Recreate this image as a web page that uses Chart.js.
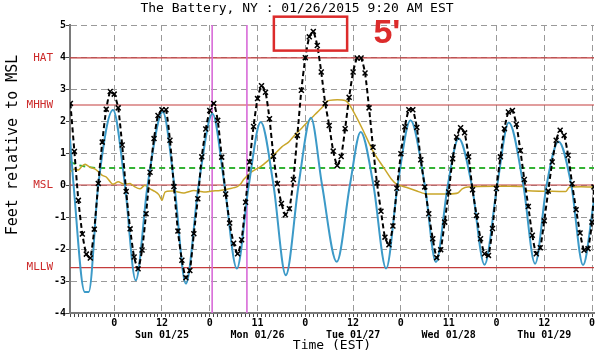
<!DOCTYPE html>
<html>
<head>
<meta charset="utf-8">
<script src="https://cdn.jsdelivr.net/npm/chart.js@4.4.1/dist/chart.umd.min.js"></script>
<style>
  html, body { margin: 0; padding: 0; background: #fff; }
  canvas { display: block; }
</style>
</head>
<body>
<canvas id="c" width="600" height="352"></canvas>
<script>
// ---------- DATA (time in hours from Sun 01/25/2015 00:00 EST) ----------
const TITLE = 'The Battery, NY : 01/26/2015 9:20 AM EST';
const Y_TITLE = 'Feet relative to MSL';
const X_TITLE = 'Time (EST)';

// major x ticks (every 12 h) and their labels
const majorTicks = [0, 12, 24, 36, 48, 60, 72, 84, 96, 108, 120];
const hourLabels = ['0', '12', '0', '11', '0', '12', '0', '11', '0', '12', '0'];
const dayLabels  = ['', 'Sun 01/25', '', 'Mon 01/26', '', 'Tue 01/27', '', 'Wed 01/28', '', 'Thu 01/29', ''];

// y ticks
const yTicks = [-4, -3, -2, -1, 0, 1, 2, 3, 4, 5];

// tidal datums
const datumNames  = ['HAT', 'MHHW', 'MSL', 'MLLW'];
const datumValues = [3.97, 2.5, 0, -2.58];

// astronomical prediction (blue)
const predTimes  = [-11.1, -10.2, -7.4, -6.4, -4.0, -0.3, 2.7, 5.4, 8.4, 12.2, 15.1, 18.0, 21.2, 24.7, 27.7, 30.8, 33.8, 36.8, 40.0, 43.1, 46.3, 49.4, 52.2, 55.9, 59.2, 61.9, 65.1, 68.3, 71.2, 74.4, 78.0, 80.8, 83.8, 86.5, 89.8, 93.0, 96.2, 99.1, 102.75, 105.7, 108.6, 111.6, 114.8, 117.75, 120.5];
const predValues = [1.45, 0, -3.34, -3.34, 0, 2.34, 0, -2.98, 0, 2.28, 0, -3.08, 0, 2.23, 0, -2.61, 0, 1.97, 0, -2.82, 0, 2.10, 0, -2.40, 0, 1.66, 0, -2.61, 0, 2.02, 0, -2.41, 0, 1.45, 0, -2.49, 0, 1.95, 0, -2.46, 0, 1.36, 0, -2.50, -0.48];

// observed / forecast water level (black dashed, hourly x markers)
const obsTimes = [-11, -10, -9, -8, -7, -6, -5, -4, -3, -2, -1, 0, 1, 2, 3, 4, 5, 6, 7, 8, 9, 10, 11, 12, 13, 14, 15, 16, 17, 18, 19, 20, 21, 22, 23, 24, 25, 26, 27, 28, 29, 30, 31, 32, 33, 34, 35, 36, 37, 38, 39, 40, 41, 42, 43, 44, 45, 46, 47, 48, 49, 50, 51, 52, 53, 54, 55, 56, 57, 58, 59, 60, 61, 62, 63, 64, 65, 66, 67, 68, 69, 70, 71, 72, 73, 74, 75, 76, 77, 78, 79, 80, 81, 82, 83, 84, 85, 86, 87, 88, 89, 90, 91, 92, 93, 94, 95, 96, 97, 98, 99, 100, 101, 102, 103, 104, 105, 106, 107, 108, 109, 110, 111, 112, 113, 114, 115, 116, 117, 118, 119, 120, 120.5];
const obsValues = [
  2.55, 1.05, -0.48, -1.53, -2.16, -2.28, -1.38, 0.05, 1.34, 2.37, 2.92,
  2.84, 2.41, 1.25, -0.2, -1.37, -2.25, -2.62, -2.03, -0.9, 0.4, 1.45, 2.17,
  2.35, 2.35, 1.4, -0.05, -1.44, -2.35, -2.9, -2.67, -1.52, -0.43, 0.88, 1.75,
  2.33, 2.55, 2.02, 0.87, -0.28, -1.19, -1.82, -2.15, -1.71, -0.54, 0.72, 1.83,
  2.7, 3.1, 2.9, 2.07, 0.9, 0.04, -0.58, -0.93, -0.74, 0.17, 1.55, 2.96,
  3.98, 4.63, 4.8, 4.36, 3.53, 2.55, 1.86, 1.06, 0.61, 0.89, 1.76, 2.74,
  3.53, 3.97, 3.97, 3.5, 2.41, 1.18, 0.06, -0.82, -1.63, -1.87, -1.28, -0.1,
  0.98, 1.82, 2.35, 2.35, 1.8, 0.79, -0.06, -0.9, -1.68, -2.27, -2.02, -1.16,
  -0.22, 0.82, 1.5, 1.79, 1.63, 0.88, -0.15, -0.95, -1.68, -2.15, -2.2, -1.36,
  -0.11, 0.88, 1.76, 2.28, 2.33, 1.9, 1.08, 0.17, -0.67, -1.57, -2.15, -1.96,
  -1.12, -0.19, 0.72, 1.4, 1.71, 1.55, 0.93, 0.04, -0.77, -1.5, -2.04, -1.99,
  -1.16, -0.06
];

// anomaly (yellow)
const anomTimes  = [-11.1, -10, -9, -8, -7.3, -6, -5, -4, -3, -2, -1, -0.3, 1, 2.5, 4, 5.2, 6.5, 7.7, 9, 10.2, 11.2, 12, 12.8, 14.9, 17.4, 20, 22.5, 24.6, 26.6, 29.2, 30.8, 31.8, 32.5, 34.5, 36.6, 38.7, 40.4, 42.1, 43.8, 45.5, 47.2, 48.8, 50.5, 52.2, 53.5, 55, 58, 59.2, 60.8, 62.5, 65.1, 67.6, 69.7, 71, 73.5, 76, 78, 84, 86.3, 87.4, 88.8, 96, 102.7, 103.6, 111.8, 113.5, 114.3, 120.5];
const anomValues = [0.41, 0.5, 0.47, 0.6, 0.65, 0.55, 0.51, 0.42, 0.3, 0.25, 0.1, 0.02, 0.1, 0.02, 0.05, -0.06, -0.12, -0.01, -0.12, -0.2, -0.3, -0.48, -0.22, -0.19, -0.25, -0.17, -0.22, -0.19, -0.17, -0.11, -0.06, 0.04, 0.17, 0.41, 0.56, 0.77, 0.98, 1.19, 1.34, 1.58, 1.79, 2.0, 2.21, 2.42, 2.62, 2.66, 2.64, 2.49, 2.13, 1.71, 1.03, 0.56, 0.17, 0.02, -0.08, -0.19, -0.27, -0.28, -0.25, -0.12, -0.06, -0.04, -0.05, -0.17, -0.2, -0.2, -0.07, -0.06];

// offset (green dashed)
const offTimes  = [-11.1, -9, -7, -4.5, 120.5];
const offValues = [0.72, 0.62, 0.57, 0.53, 0.53];

// vertical markers (magenta): start of day / current time
const markerTimes = [24.6, 33.33];

// annotation
const NOTE_TEXT = "5'";

// ---------- CHART ----------
const X_MIN = -11.1, X_MAX = 120.5, Y_MIN = -4, Y_MAX = 5;
const MONO = '"DejaVu Sans Mono", "Liberation Mono", monospace';

const pts = (xs, ys) => xs.map((t, i) => ({ x: t, y: ys[i] }));
const hourTicks = [];
for (let h = -11; h <= 120; h++) hourTicks.push(h);

const datasets = [];
datasets.push({
  label: 'Observed/Forecast', data: pts(obsTimes, obsValues),
  borderColor: '#000', borderWidth: 2, borderDash: [5, 3], tension: 0.2,
  pointStyle: 'crossRot', pointRadius: 3.5, pointBorderWidth: 1.5,
  pointBorderColor: '#000', pointBackgroundColor: '#000', xAxisID: 'x', yAxisID: 'y'
});
datasets.push({
  label: 'Predicted', data: pts(predTimes, predValues),
  borderColor: '#3c9ac8', borderWidth: 2, cubicInterpolationMode: 'monotone',
  pointRadius: 0, xAxisID: 'x', yAxisID: 'y'
});
datasets.push({
  label: 'Anomaly', data: pts(anomTimes, anomValues),
  borderColor: '#c9a62a', borderWidth: 1.5, tension: 0.2,
  pointRadius: 0, xAxisID: 'x', yAxisID: 'y'
});
datasets.push({
  label: 'Offset', data: pts(offTimes, offValues),
  borderColor: '#33b233', borderWidth: 2, borderDash: [6, 4],
  pointRadius: 0, xAxisID: 'x', yAxisID: 'y'
});
markerTimes.forEach(t => datasets.push({
  label: 'marker', data: [{ x: t, y: Y_MIN }, { x: t, y: Y_MAX }],
  borderColor: '#d86ad8', borderWidth: 1.6, pointRadius: 0, xAxisID: 'x', yAxisID: 'y'
}));
datumValues.forEach(v => datasets.push({
  label: 'datum', data: [{ x: X_MIN, y: v }, { x: X_MAX, y: v }],
  borderColor: '#c43c3c', borderWidth: 1.2, pointRadius: 0, xAxisID: 'x', yAxisID: 'y'
}));

const overlay = {
  id: 'overlay',
  afterDraw(chart) {
    const { ctx } = chart;
    const x = chart.scales.x, y = chart.scales.y;
    // y-axis title
    ctx.save();
    ctx.translate(13, 145);
    ctx.rotate(-Math.PI / 2);
    ctx.font = '15px ' + MONO;
    ctx.fillStyle = '#000';
    ctx.textAlign = 'center';
    ctx.textBaseline = 'middle';
    ctx.fillText(Y_TITLE, 0, 0);
    ctx.restore();
    // red box annotation
    ctx.save();
    const bx1 = x.getPixelForValue(40.1), bx2 = x.getPixelForValue(58.5);
    const by1 = y.getPixelForValue(5.26), by2 = y.getPixelForValue(4.2);
    ctx.strokeStyle = '#dc2b2b';
    ctx.lineWidth = 2.5;
    ctx.strokeRect(bx1, by1, bx2 - bx1, by2 - by1);
    ctx.font = 'bold 34px "Liberation Sans", Arial, sans-serif';
    ctx.fillStyle = '#dc2b2b';
    ctx.textAlign = 'center';
    ctx.textBaseline = 'middle';
    ctx.fillText(NOTE_TEXT, x.getPixelForValue(68.5), y.getPixelForValue(4.72));
    ctx.restore();
  }
};

new Chart(document.getElementById('c'), {
  type: 'line',
  data: { datasets },
  plugins: [overlay],
  options: {
    responsive: false,
    animation: false,
    events: [],
    layout: { padding: { left: 0, right: 6, top: 0, bottom: 0 } },
    plugins: {
      legend: { display: false },
      tooltip: { enabled: false },
      title: {
        display: true, text: TITLE, color: '#000',
        font: { family: MONO, size: 13, weight: 'normal' },
        padding: { top: 1, bottom: 8.4 }
      }
    },
    scales: {
      x: {
        type: 'linear', position: 'bottom', min: X_MIN, max: X_MAX,
        afterBuildTicks: s => { s.ticks = hourTicks.map(v => ({ value: v })); },
        afterFit: s => { s.height = 39; },
        ticks: {
          autoSkip: false, maxRotation: 0, minRotation: 0, padding: 0, color: '#000',
          font: { family: MONO, size: 10, weight: 'bold', lineHeight: 1.2 },
          callback: v => {
            const i = majorTicks.indexOf(v);
            return i < 0 ? '' : [hourLabels[i], dayLabels[i]];
          }
        },
        grid: {
          color: c => (c.tick && majorTicks.includes(c.tick.value)) ? '#9a9a9a' : 'rgba(0,0,0,0)',
          lineWidth: 1, tickLength: 4, tickColor: '#444', tickWidth: 1
        },
        border: { display: true, color: '#7a7a7a', width: 2, dash: [6, 4] },
        title: {
          display: true, text: X_TITLE, color: '#000',
          font: { family: MONO, size: 13 }, padding: { top: 0, bottom: -1 }
        }
      },
      y: {
        type: 'linear', position: 'left', weight: 0, min: Y_MIN, max: Y_MAX,
        afterBuildTicks: s => { s.ticks = yTicks.map(v => ({ value: v })); },
        afterFit: s => { s.width = 17; },
        ticks: { color: '#000', padding: 0, font: { family: MONO, size: 10, weight: 'bold' } },
        grid: { color: '#9a9a9a', lineWidth: 1, tickLength: 4, tickColor: '#444' },
        border: { display: true, color: '#7a7a7a', width: 2, dash: [6, 4] }
      },
      yNames: {
        type: 'linear', position: 'left', weight: 10, min: Y_MIN, max: Y_MAX,
        afterBuildTicks: s => { s.ticks = datumValues.map(v => ({ value: v })); },
        afterFit: s => { s.width = 53; },
        ticks: {
          autoSkip: false, padding: 0, color: '#cc2a2a',
          font: { family: MONO, size: 11 },
          callback: (v, i) => datumNames[i]
        },
        grid: { display: false, drawTicks: false },
        border: { display: false }
      }
    }
  }
});
</script>
</body>
</html>
